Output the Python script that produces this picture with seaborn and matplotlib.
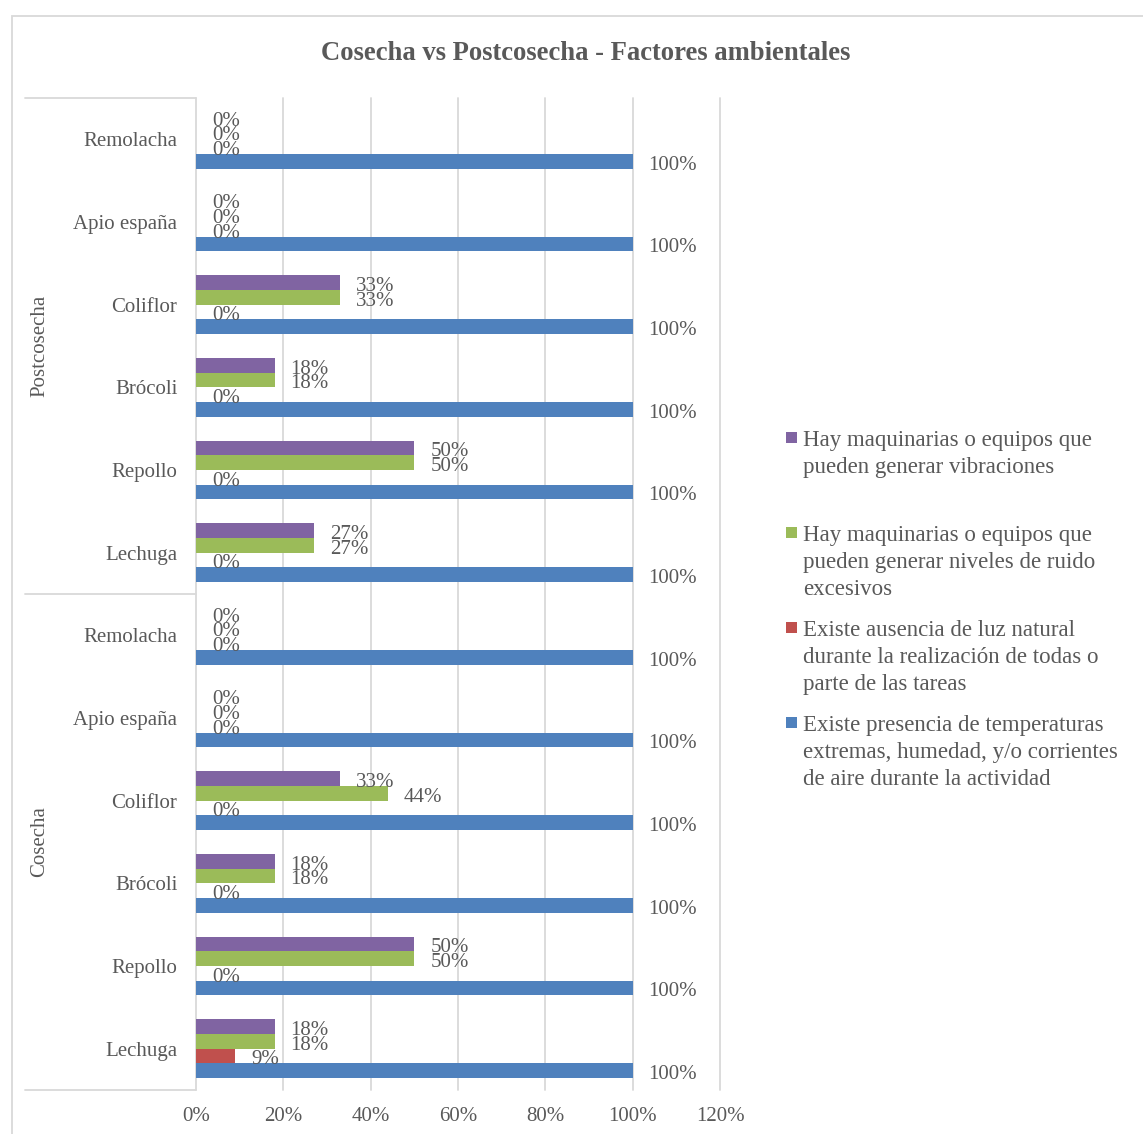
import matplotlib
matplotlib.use("Agg")
import matplotlib.pyplot as plt
import matplotlib.transforms as mtransforms
from matplotlib.patches import Rectangle
from matplotlib.ticker import FuncFormatter
import pandas as pd
import seaborn as sns

# ---- data -------------------------------------------------------------
cultivos = ["Lechuga", "Repollo", "Brócoli", "Coliflor", "Apio españa", "Remolacha"]
etapas = ["Cosecha", "Postcosecha"]

series = [
    "Hay maquinarias o equipos que pueden generar vibraciones",
    "Hay maquinarias o equipos que pueden generar niveles de ruido excesivos",
    "Existe ausencia de luz natural durante la realización de todas o parte de las tareas",
    "Existe presencia de temperaturas extremas, humedad, y/o corrientes de aire durante la actividad",
]

vibraciones_cosecha = [18, 50, 18, 33, 0, 0]
ruido_cosecha = [18, 50, 18, 44, 0, 0]
luz_cosecha = [9, 0, 0, 0, 0, 0]
temperatura_cosecha = [100, 100, 100, 100, 100, 100]

vibraciones_postcosecha = [27, 50, 18, 33, 0, 0]
ruido_postcosecha = [27, 50, 18, 33, 0, 0]
luz_postcosecha = [0, 0, 0, 0, 0, 0]
temperatura_postcosecha = [100, 100, 100, 100, 100, 100]

legend_lines = [
    ["Hay maquinarias o equipos que", "pueden generar vibraciones"],
    ["Hay maquinarias o equipos que", "pueden generar niveles de ruido", "excesivos"],
    ["Existe ausencia de luz natural", "durante la realización de todas o", "parte de las tareas"],
    ["Existe presencia de temperaturas", "extremas, humedad, y/o corrientes", "de aire durante la actividad"],
]

colores = ["#8064A2", "#9BBB59", "#C0504D", "#4F81BD"]
TEXT = "#595959"
GRID = "#D9D9D9"

# ---- long-form table ----------------------------------------------------
valores = {
    "Cosecha": [vibraciones_cosecha, ruido_cosecha, luz_cosecha, temperatura_cosecha],
    "Postcosecha": [vibraciones_postcosecha, ruido_postcosecha, luz_postcosecha, temperatura_postcosecha],
}
rows = []
for etapa in etapas:
    for s, vals in zip(series, valores[etapa]):
        for cultivo, v in zip(cultivos, vals):
            rows.append({"clave": f"{etapa}|{cultivo}", "serie": s, "valor": v})
df = pd.DataFrame(rows)

orden = [f"Postcosecha|{c}" for c in reversed(cultivos)] + [f"Cosecha|{c}" for c in reversed(cultivos)]

# ---- figure ------------------------------------------------------------
sns.set_theme(style="white")
plt.rcParams["font.family"] = ["Liberation Serif", "DejaVu Serif"]
plt.rcParams["text.color"] = TEXT

W, H = 1143, 1134
fig = plt.figure(figsize=(W / 100, H / 100), dpi=100)
ax = fig.add_axes([196 / W, 1 - 1090 / H, (720 - 196) / W, (1090 - 98) / H])

sns.barplot(
    data=df, y="clave", x="valor", hue="serie",
    order=orden, hue_order=series, palette=colores,
    orient="h", width=0.71, errorbar=None, saturation=1,
    linewidth=0, edgecolor="none", legend=False, ax=ax,
)

# value labels just past the end of each bar
for cont in ax.containers:
    vals = [b.get_width() for b in cont]
    anns = ax.bar_label(cont, labels=[f"{v:.0f}%" for v in vals], padding=11.5,
                        color=TEXT, fontsize=15)
    for a in anns:
        a.xyann = (11.5, -2.8)

ax.set_ylim(len(orden) - 0.5, -0.5)
ax.set_xlim(0, 120)
ax.set_xticks(range(0, 121, 20))
ax.xaxis.set_major_formatter(FuncFormatter(lambda v, p: f"{v:.0f}%"))
ax.set_yticks(range(len(orden)))
ax.set_yticklabels([k.split("|")[1] for k in orden])
ax.tick_params(axis="both", length=0, labelsize=15, labelcolor=TEXT)
ax.tick_params(axis="y", pad=13.5)
ax.tick_params(axis="x", pad=12)
ax.set_xlabel("")
ax.set_ylabel("")

ax.grid(axis="x", color=GRID, linewidth=1.3)
ax.grid(axis="y", visible=False)
ax.set_axisbelow(True)
for gl in ax.get_xgridlines():
    gl.set_clip_on(False)
for side in ["top", "right", "bottom", "left"]:
    ax.spines[side].set_visible(False)

# two-level category axis: separators and stage labels
trans = mtransforms.blended_transform_factory(ax.transAxes, ax.transData)
x_sep = (25 - 196) / (720 - 196)
for y in (-0.5, 5.5, 11.5):
    ax.plot([x_sep, 0], [y, y], transform=trans, color=GRID, lw=1.3, clip_on=False)
x_grp = (40 - 196) / (720 - 196)
ax.text(x_grp, 2.5, "Postcosecha", transform=trans, rotation=90,
        ha="center", va="center", fontsize=15, color=TEXT)
ax.text(x_grp, 8.5, "Cosecha", transform=trans, rotation=90,
        ha="center", va="center", fontsize=15, color=TEXT)

# title
fig.text(586 / W, 1 - 54 / H, "Cosecha vs Postcosecha - Factores ambientales",
         ha="center", va="center", fontsize=19.2, fontweight="bold", color=TEXT)

# legend
for k, (lines, col) in enumerate(zip(legend_lines, colores)):
    base = 446 + 95 * k
    fig.add_artist(Rectangle((786 / W, 1 - (base - 3) / H), 11 / W, 11 / H,
                             transform=fig.transFigure, facecolor=col, edgecolor="none"))
    for i, line in enumerate(lines):
        fig.text(803 / W, 1 - (base + 27 * i) / H, line, ha="left", va="baseline",
                 fontsize=16.5, color=TEXT)

# chart frame
fig.add_artist(Rectangle((12 / W, -0.1), 2, 1.1 - 16 / H, transform=fig.transFigure,
                         facecolor="none", edgecolor=GRID, lw=1.3))

fig.savefig("out.png", dpi=100, facecolor="white")
